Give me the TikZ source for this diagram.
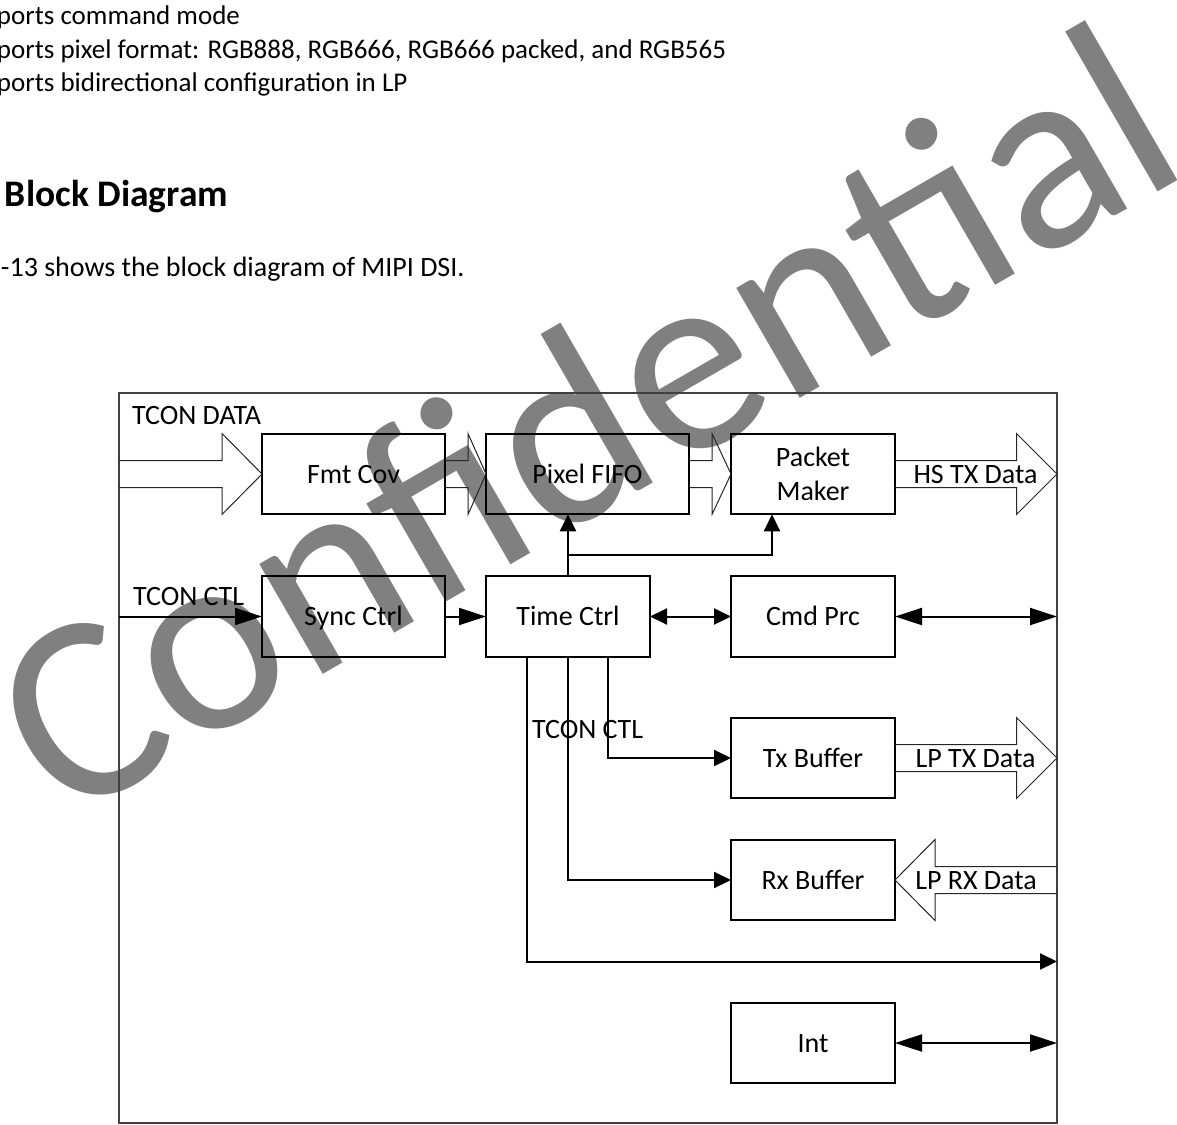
\documentclass[tikz,border=0pt]{standalone}
\usepackage{fontspec}
\setmainfont{Carlito}
\usetikzlibrary{arrows.meta,calc}
\tikzset{
  ShortTip/.tip={Triangle[length=17pt,width=16pt]},
  LongTip/.tip={Triangle[length=27pt,width=17pt]},
  lbl/.style={font=\fontsize{28}{34}\selectfont},
  body/.style={font=\fontsize{27}{33}\selectfont, anchor=base west},
  box/.style={draw, line width=2pt, minimum height=80.5pt, font=\fontsize{28}{34}\selectfont, align=center},
  capc/.style={text height=18pt, text depth=0pt},
  frame/.style={draw=black!75, line width=1.2pt},
  conn/.style={line width=2pt},
  fat/.style={line width=1pt, draw=black!85, line join=miter},
  wmark/.style={font=\fontsize{266}{266}\selectfont, text=black!50},
}
\newcommand\fatarr[3]{\draw[fat] let \p1=(#1), \p2=(#2) in
  ({\x1},{\y1+13.5pt}) -- ({\x2-(#3)},{\y1+13.5pt}) -- ({\x2-(#3)},{\y1+40.5pt}) -- ({\x2},{\y1})
  -- ({\x2-(#3)},{\y1-40.5pt}) -- ({\x2-(#3)},{\y1-13.5pt}) -- ({\x1},{\y1-13.5pt});}
\begin{document}
\begin{tikzpicture}[x=1pt,y=-1pt,every node/.style={inner sep=0pt,outer sep=0pt}]
\useasboundingbox (0,0) rectangle (1177,1124);
% watermark
\node[wmark, rotate=30, anchor=base west] (wm) at (63,824) {Confidential};
% header text
\node[body] (l1) at (-3,25) {ports command mode};
\node[body] (l2) at (-3,58.5) {ports pixel format: RGB888, RGB666, RGB666 packed, and RGB565};
\node[body] (l3) at (-3,92) {ports bidirectional configuration in LP};
\node[font=\fontsize{37.5}{44}\selectfont\bfseries, anchor=base west] (hd) at (5,206.7) {Block Diagram};
\node[font=\fontsize{28}{33}\selectfont, anchor=base west] (l4) at (1,276.7) {-13 shows the block diagram of MIPI DSI.};
% frame
\node[frame, minimum width=938pt, minimum height=730pt] (frame) at (588,758) {};
% boxes
\node[box,capc,minimum width=183pt] (fmt) at (353.5,474) {Fmt Cov};
\node[box,capc,minimum width=203pt] (pix) at (587.5,474) {Pixel FIFO};
\node[box,minimum width=164pt] (pkt) at (813,474) {Packet\\Maker};
\node[box,capc,minimum width=183pt] (sync) at (353.5,616.5) {Sync Ctrl};
\node[box,capc,minimum width=164pt] (time) at (568,616.5) {Time Ctrl};
\node[box,capc,minimum width=164pt] (cmd) at (813,616.5) {Cmd Prc};
\node[box,capc,minimum width=164pt] (tx) at (813,758) {Tx Buffer};
\node[box,capc,minimum width=164pt] (rx) at (813,880) {Rx Buffer};
\node[box,capc,minimum width=164pt] (int) at (813,1043) {Int};
% fat data arrows
\coordinate (inD) at (frame.west |- fmt.west);
\fatarr{inD}{fmt.west}{40}
\fatarr{fmt.east}{pix.west}{18}
\fatarr{pix.east}{pkt.west}{19}
\coordinate (hsD) at (frame.east |- pkt.east);
\fatarr{pkt.east}{hsD}{40.5}
\coordinate (lpT) at (frame.east |- tx.east);
\fatarr{tx.east}{lpT}{40.5}
\coordinate (lpR) at (frame.east |- rx.east);
\fatarr{lpR}{rx.east}{-40}
% labels
\node[lbl, anchor=base west] (tcdata) at (132,424.5) {TCON DATA};
\node[lbl, anchor=base west] (tcctl) at (133,605) {TCON CTL};
\node[lbl, anchor=base west] (tcctl2) at (532,738.5) {TCON CTL};
\node[lbl, anchor=base] (hstx) at (975.5,483) {HS TX Data};
\node[lbl, anchor=base] (lptx) at (975.5,767.5) {LP TX Data};
\node[lbl, anchor=base] (lprx) at (976,889.5) {LP RX Data};
% connectors
\coordinate (inC) at (frame.west |- sync.west);
\draw[conn,-{LongTip}] (inC) -- (sync.west);
\draw[conn,-{LongTip}] (sync.east) -- (time.west);
\draw[conn,{ShortTip}-{ShortTip}] (time.east) -- (cmd.west);
\coordinate (cmdO) at (frame.east |- cmd.east);
\draw[conn,{LongTip}-{LongTip}] (cmd.east) -- (cmdO);
\draw[conn,-{ShortTip}] (time.north) -- (time.north |- pix.south);
\coordinate (br) at ($(time.north)+(0,-21.5)$);
\coordinate (pktin) at ($(pkt.south west)+(41,0)$);
\draw[conn,-{ShortTip}] (br) -| (pktin);
\coordinate (tb1) at ($(time.south west)+(41,0)$);
\coordinate (tb3) at ($(time.south east)+(-42,0)$);
\draw[conn,-{ShortTip}] (tb3) |- (tx.west);
\draw[conn,-{ShortTip}] (time.south) |- (rx.west);
\coordinate (outT) at (frame.east |- 0,961.5);
\draw[conn,-{ShortTip}] (tb1) |- (outT);
\coordinate (intO) at (frame.east |- int.east);
\draw[conn,{LongTip}-{LongTip}] (int.east) -- (intO);
\end{tikzpicture}
\end{document}
